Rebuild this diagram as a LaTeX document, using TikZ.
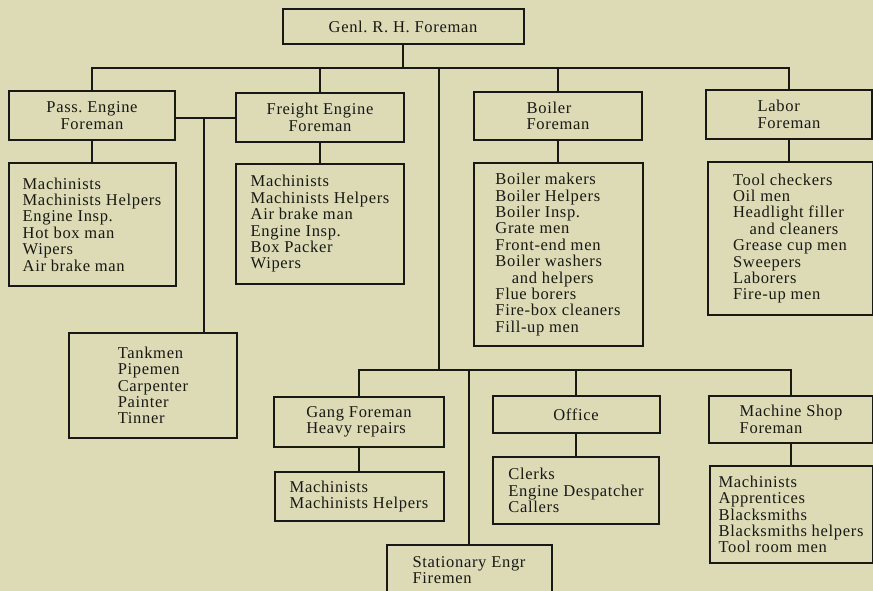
\documentclass[tikz,border=0pt]{standalone}
\usepackage{fontspec}
\setmainfont[LetterSpace=4]{Liberation Serif}
\usetikzlibrary{positioning}
\definecolor{paper}{RGB}{220,219,182}
\definecolor{ink}{RGB}{24,24,20}
\tikzset{
  box/.style={draw=ink, line width=1.5pt, inner sep=0pt, align=center,
    text=ink, font=\fontsize{12.4}{12.3}\selectfont},
  list/.style={box, align=left},
  sz/.style 2 args={minimum width=#1*0.75pt, minimum height=#2*0.75pt},
  wire/.style={draw=ink, line width=1.5pt}
}
\begin{document}
\begin{tikzpicture}[x=0.75pt, y=-0.75pt]
  % paper
  \fill[paper] (0,0) rectangle (873,591);
  \useasboundingbox (0,0) rectangle (873,591);
  % head
  \node[box, sz={241}{35}] (gen) at (403,26.5) {Genl.\ R.\ H.\ Foreman};
  % foremen
  \node[box, sz={166}{49}] (pass) at (92,115.5) {Pass.\ Engine\\Foreman};
  \node[box, sz={168}{49}] (freight) at (320,117.5) {Freight Engine\\Foreman};
  \node[list, sz={168}{48}] (boiler) at (558,116) {Boiler\\Foreman};
  \node[list, sz={166}{49}] (labor) at (789,114.5) {Labor\\Foreman};
  % their men
  \node[list, sz={167}{123}] (passl) at (92,224.5)
    {Machinists\\Machinists Helpers\\Engine Insp.\\Hot box man\\Wipers\\Air brake man};
  \node[list, sz={168}{120}] (freightl) at (320,224)
    {Machinists\\Machinists Helpers\\Air brake man\\Engine Insp.\\Box Packer\\Wipers};
  \node[list, sz={169}{183}] (boilerl) at (558,254.5)
    {Boiler makers\\Boiler Helpers\\Boiler Insp.\\Grate men\\Front-end men\\Boiler washers\\\hspace*{1em}and helpers\\Flue borers\\Fire-box cleaners\\Fill-up men};
  \node[list, sz={165}{153}] (laborl) at (790,238.5)
    {Tool checkers\\Oil men\\Headlight filler\\\hspace*{1em}and cleaners\\Grease cup men\\Sweepers\\Laborers\\Fire-up men};
  \node[list, sz={168}{105}] (tank) at (153,385.5)
    {Tankmen\\Pipemen\\Carpenter\\Painter\\Tinner};
  % lower row
  \node[list, sz={170}{50}] (gang) at (359,422) {Gang Foreman\\Heavy repairs};
  \node[list, sz={169}{49}] (gangl) at (359,496.5) {Machinists\\Machinists Helpers};
  \node[box, sz={167}{37}] (office) at (576,414.5) {Office};
  \node[list, sz={166}{67}] (officel) at (576,490.5) {Clerks\\Engine Despatcher\\Callers};
  \node[list, sz={164}{47}] (shop) at (791,419.5) {Machine Shop\\Foreman};
  \node[list, sz={163}{97}] (shopl) at (791,514.5)
    {Machinists\\Apprentices\\Blacksmiths\\Blacksmiths helpers\\Tool room men};
  \node[list, sz={165}{50}] (stat) at (469,570) {Stationary Engr\\Firemen};
  % upper bus
  \coordinate (top) at (403,68);
  \coordinate (hub) at (439,370);
  \coordinate (link) at (204,118);
  \draw[wire] (gen.south) -- (top);
  \draw[wire] (pass.north) |- (top) -| (labor.north);
  \draw[wire] (freight.north) -- (freight.north |- top);
  \draw[wire] (boiler.north) -- (boiler.north |- top);
  \draw[wire] (hub |- top) -- (hub);
  % pass--freight link
  \draw[wire] (pass.east |- link) -- (freight.west |- link);
  \draw[wire] (link) -- (link |- tank.north);
  % lower bus
  \draw[wire] (gang.north) |- (hub) -| (shop.north);
  \draw[wire] (office.north) -- (office.north |- hub);
  \draw[wire] (stat.north) -- (stat.north |- hub);
  % foreman to men
  \draw[wire] (pass.south) -- (pass.south |- passl.north);
  \draw[wire] (freight.south) -- (freight.south |- freightl.north);
  \draw[wire] (boiler.south) -- (boiler.south |- boilerl.north);
  \draw[wire] (labor.south) -- (labor.south |- laborl.north);
  \draw[wire] (gang.south) -- (gang.south |- gangl.north);
  \draw[wire] (office.south) -- (office.south |- officel.north);
  \draw[wire] (shop.south) -- (shop.south |- shopl.north);
\end{tikzpicture}
\end{document}
